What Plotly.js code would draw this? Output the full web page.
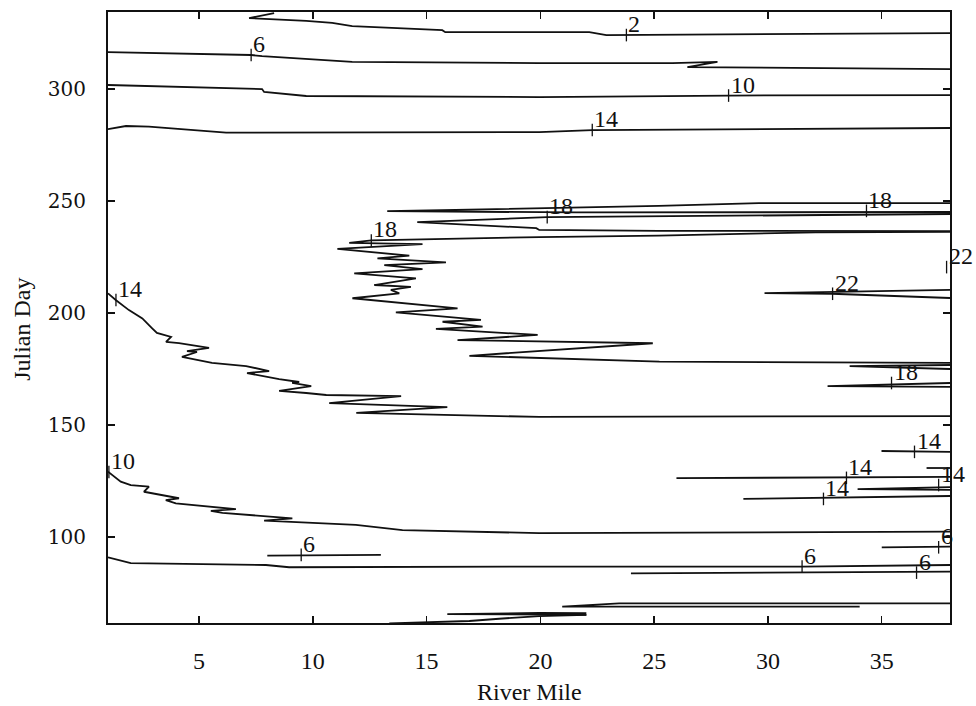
<!DOCTYPE html>
<html>
<head>
<meta charset="utf-8">
<script src="https://cdn.plot.ly/plotly-3.0.1.min.js"></script>
<style>html,body{margin:0;padding:0;background:#fff}</style>
</head>
<body>
<div id="chart" style="width:976px;height:706px"></div>
<script>
// Isotherms of water temperature (deg C) by river mile and Julian day.
// Each isoline is a pair of x (river mile) / y (Julian day) arrays.

// 2 deg, early winter
const iso2X = [8.30, 7.20, 9.71, 10.85, 11.73, 15.69, 15.82, 22.15, 22.90, 38];
const iso2Y = [333.9, 331.7, 330.4, 329.5, 328.1, 326.3, 325.4, 325.4, 324.1, 325.0];

// 6 deg, autumn
const iso6FallX = [1, 7.29, 7.77, 9.71, 11.73, 19.95, 25.80, 27.78, 26.46, 38];
const iso6FallY = [316.5, 315.2, 314.7, 313.4, 312.1, 311.6, 311.6, 312.1, 309.8, 308.9];

// 10 deg, autumn
const iso10FallX = [1, 7.77, 7.86, 9.71, 19.95, 28.27, 38];
const iso10FallY = [301.8, 300.0, 298.7, 296.9, 296.4, 297.1, 297.3];

// 14 deg, autumn
const iso14FallX = [1, 1.79, 2.80, 4.25, 6.19, 19.95, 22.28, 38];
const iso14FallY = [282.1, 283.5, 283.2, 282.0, 280.5, 280.8, 281.7, 282.6];

// 18 deg, late summer lobes
const iso18aX = [38, 29.6, 25.2, 13.27, 21.6, 38];
const iso18aY = [249.1, 249.1, 247.8, 245.5, 244.9, 245.1];
const iso18bX = [38, 25.2, 20.3, 14.59, 19.82, 19.95, 25.2, 38];
const iso18bY = [244.2, 243.3, 242.8, 240.6, 237.9, 237.1, 236.7, 236.6];

// 18 deg, main summer boundary
const iso18cX = [38, 32.1, 25.2, 19.95, 12.57, 11.60, 14.82, 11.08, 14.24, 12.84, 15.85, 13.14,
  14.82, 11.82, 14.53, 12.70, 14.31, 13.43, 13.80, 11.74, 16.36, 13.65, 17.39, 15.70, 17.46,
  15.41, 19.88, 16.36, 24.94, 16.88, 25.23, 38];
const iso18cY = [236.2, 236.0, 234.6, 233.9, 232.4, 231.3, 230.8, 228.6, 225.6, 224.4, 222.6, 221.4,
  219.6, 217.7, 215.5, 212.5, 211.7, 210.3, 208.8, 206.6, 202.1, 200.3, 196.9, 196.1, 193.9,
  192.9, 190.2, 187.9, 186.5, 180.9, 178.3, 177.7];

// 18 deg, small early-summer tongues near the upper reach
const iso18dX = [38, 33.59, 38];
const iso18dY = [176.8, 176.3, 175.0];
const iso18eX = [38, 32.62, 38];
const iso18eY = [168.75, 167.4, 167.0];

// 22 deg
const iso22X = [38, 32.8, 29.85, 32.8, 38];
const iso22Y = [210.3, 209.6, 208.9, 208.6, 206.7];

// 14 deg, spring boundary
const iso14SpringX = [1, 1.34, 1.92, 2.51, 2.93, 3.15, 3.77, 3.55, 4.12, 5.44, 4.47, 4.91, 4.25,
  5.57, 7.07, 8.08, 7.11, 8.52, 9.40, 9.09, 9.93, 8.52, 9.71, 10.59, 13.88, 10.72, 15.91,
  11.91, 19.95, 38];
const iso14SpringY = [208.8, 205.8, 201.3, 197.6, 193.3, 191.1, 189.3, 187.1, 186.6, 184.4, 183.0,
  182.6, 180.4, 177.7, 176.3, 174.1, 173.2, 170.5, 169.2, 168.8, 167.4, 165.2, 164.3, 163.4,
  162.9, 159.8, 158.0, 155.4, 153.6, 154.0];

// 14 deg, spring tongues
const iso14aX = [34.99, 38];
const iso14aY = [138.4, 138.0];
const iso14bX = [36.97, 38];
const iso14bY = [130.8, 130.8];
const iso14cX = [25.98, 38];
const iso14cY = [126.3, 126.8];
const iso14dX = [38, 33.94, 38];
const iso14dY = [122.3, 121.4, 121.0];
const iso14eX = [28.92, 38];
const iso14eY = [117.0, 118.3];

// 10 deg, spring
const iso10SpringX = [1, 1.56, 2.00, 2.80, 2.58, 2.95, 4.12, 3.54, 3.98, 6.62, 5.52, 6.03, 9.10,
  7.86, 8.81, 11.89, 13.94, 19.95, 38];
const iso10SpringY = [129.2, 124.7, 123.2, 122.5, 120.2, 119.5, 117.3, 116.5, 115.0, 112.4, 111.7,
  110.8, 108.3, 107.3, 106.8, 105.4, 103.1, 101.7, 102.4];

// 6 deg, spring
const iso6SpringX = [1, 2.0, 7.94, 8.96, 19.95, 31.5, 38];
const iso6SpringY = [90.9, 88.3, 87.5, 86.5, 86.8, 86.8, 87.5];
const iso6aX = [8.0, 12.99];
const iso6aY = [91.7, 92.0];
const iso6bX = [35.0, 38];
const iso6bY = [95.4, 95.7];
const iso6cX = [23.98, 38];
const iso6cY = [83.8, 84.5];

// Late-winter lines near the lower edge
const isoLowAX = [13.36, 16.88, 18.19, 19.95, 22.02];
const isoLowAY = [61.4, 62.5, 63.5, 64.7, 65.2];
const isoLowBX = [22.02, 15.91, 19.95, 22.02];
const isoLowBY = [65.2, 65.6, 66.1, 66.0];
const isoLowCX = [34.03, 26.99, 20.96, 23.46, 38];
const isoLowCY = [68.9, 68.9, 68.9, 70.4, 70.4];

// Contour labels: value text and the point on the line where it sits
const labelText = ['2', '6', '10', '14', '18', '18', '22', '22', '18', '14', '18', '14', '14', '14', '14', '10', '6', '6', '6', '6'];
const labelX = [23.78, 7.29, 28.27, 22.28, 20.30, 34.33, 37.85, 32.84, 12.57, 1.35, 35.43, 36.44, 33.45, 37.50, 32.44, 1.04, 37.50, 31.50, 36.53, 9.49];
const labelY = [324.1, 315.2, 297.1, 281.7, 242.8, 245.6, 220.5, 208.6, 232.4, 205.8, 168.75, 138.0, 126.4, 123.2, 117.0, 129.0, 95.4, 86.8, 84.1, 92.0];

const xTicks = [5, 10, 15, 20, 25, 30, 35];
const yTicks = [100, 150, 200, 250, 300];

const lines = [
  [iso2X, iso2Y], [iso6FallX, iso6FallY], [iso10FallX, iso10FallY], [iso14FallX, iso14FallY],
  [iso18aX, iso18aY], [iso18bX, iso18bY], [iso18cX, iso18cY], [iso18dX, iso18dY], [iso18eX, iso18eY],
  [iso22X, iso22Y], [iso14SpringX, iso14SpringY], [iso14aX, iso14aY], [iso14bX, iso14bY],
  [iso14cX, iso14cY], [iso14dX, iso14dY], [iso14eX, iso14eY], [iso10SpringX, iso10SpringY],
  [iso6SpringX, iso6SpringY], [iso6aX, iso6aY], [iso6bX, iso6bY], [iso6cX, iso6cY],
  [isoLowAX, isoLowAY], [isoLowBX, isoLowBY], [isoLowCX, isoLowCY]
];

const traces = lines.map(([x, y]) => ({
  type: 'scatter', mode: 'lines', x: x, y: y,
  line: { color: '#111', width: 1.8 }, hoverinfo: 'skip', cliponaxis: true
}));

// small tick marks where the labels sit on the lines
traces.push({
  type: 'scatter', mode: 'markers', x: labelX, y: labelY,
  marker: { symbol: 'line-ns', size: 9, line: { color: '#111', width: 1.3 } },
  hoverinfo: 'skip'
});

const serif = 'Liberation Serif';

const annotations = labelText.map((t, i) => ({
  x: labelX[i], y: labelY[i], xref: 'x', yref: 'y', text: t, showarrow: false,
  xanchor: 'left', yanchor: 'bottom', xshift: 0, yshift: -4,
  font: { family: serif, size: 24, color: '#111' }
}));

// axis titles
annotations.push({
  xref: 'paper', yref: 'paper', x: 0.5, y: -0.113, text: 'River Mile', showarrow: false,
  xanchor: 'center', yanchor: 'middle', font: { family: serif, size: 24, color: '#111' }
});
annotations.push({
  xref: 'paper', yref: 'paper', x: -0.102, y: 0.48, text: 'Julian Day', showarrow: false,
  textangle: -90, xanchor: 'center', yanchor: 'middle', font: { family: serif, size: 24, color: '#111' }
});

const layout = {
  width: 976, height: 706,
  margin: { l: 108, r: 26, t: 12, b: 83 },
  paper_bgcolor: '#fff', plot_bgcolor: '#fff',
  showlegend: false,
  annotations: annotations,
  xaxis: {
    range: [1, 38], tickvals: xTicks, ticks: 'inside', ticklen: 7, tickwidth: 1.5,
    tickcolor: '#111', showline: true, linecolor: '#111', linewidth: 2, mirror: 'ticks',
    showgrid: false, zeroline: false, ticklabelstandoff: 15,
    tickfont: { family: serif, size: 24, color: '#111' }
  },
  yaxis: {
    range: [61.6, 334.4], tickvals: yTicks, ticks: 'inside', ticklen: 7, tickwidth: 1.5,
    tickcolor: '#111', showline: true, linecolor: '#111', linewidth: 2, mirror: 'ticks',
    showgrid: false, zeroline: false, ticklabelstandoff: 16,
    tickfont: { family: 'DejaVu Serif', size: 20, color: '#111' }
  }
};

Plotly.newPlot('chart', traces, layout, { displayModeBar: false, staticPlot: true });
</script>
</body>
</html>
